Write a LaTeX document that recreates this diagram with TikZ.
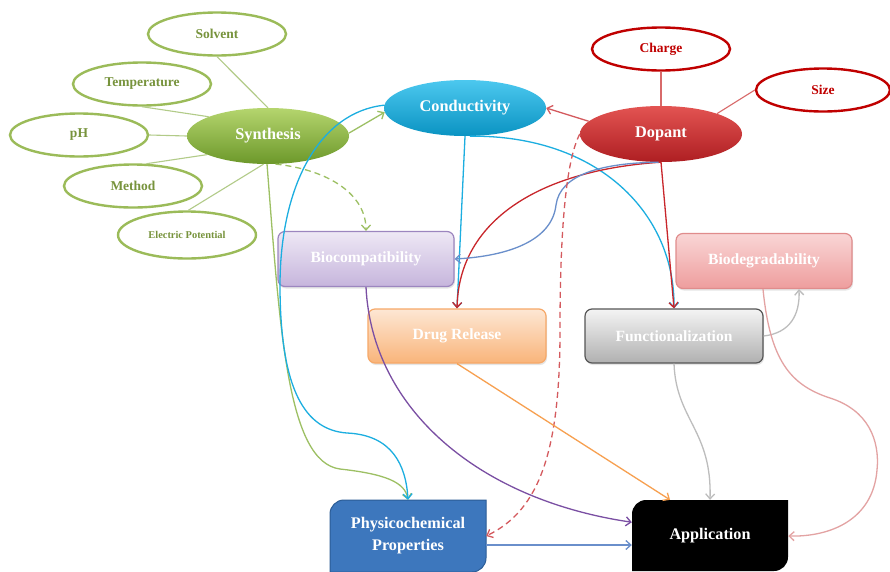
\documentclass[tikz,border=0pt]{standalone}
\usepackage{fontspec}
\setmainfont{Liberation Serif}
\usetikzlibrary{shapes.geometric,arrows.meta,shadows}
\definecolor{grnL}{HTML}{9BBB59}
\definecolor{grnT}{HTML}{77933C}
\definecolor{grnS}{HTML}{B2CB88}
\definecolor{grnA}{HTML}{9DC064}
\definecolor{redD}{HTML}{C00000}
\definecolor{redS}{HTML}{D86A6A}
\definecolor{synT}{HTML}{B5D56E}
\definecolor{synB}{HTML}{6C982A}
\definecolor{conT}{HTML}{4CC8EF}
\definecolor{conB}{HTML}{0A93C2}
\definecolor{dopT}{HTML}{E35452}
\definecolor{dopB}{HTML}{AE1E22}
\definecolor{bioT}{HTML}{EEE8F5}
\definecolor{bioB}{HTML}{C6B5DC}
\definecolor{bioD}{HTML}{9C86BF}
\definecolor{druT}{HTML}{FDE7D4}
\definecolor{druB}{HTML}{F9B47A}
\definecolor{druD}{HTML}{F6A868}
\definecolor{bdgT}{HTML}{F9D6D6}
\definecolor{bdgB}{HTML}{EE9D9D}
\definecolor{bdgD}{HTML}{E08C8C}
\definecolor{funT}{HTML}{F4F4F4}
\definecolor{funB}{HTML}{B0B0B0}
\definecolor{funD}{HTML}{555555}
\definecolor{phyF}{HTML}{3D77BD}
\definecolor{phyD}{HTML}{2B5C96}
\definecolor{cyanL}{HTML}{1CAEE0}
\definecolor{redL}{HTML}{C8262B}
\definecolor{redM}{HTML}{D45A5E}
\definecolor{steel}{HTML}{6A8FCB}
\definecolor{purp}{HTML}{7A4FA3}
\definecolor{orng}{HTML}{F7A050}
\definecolor{grayL}{HTML}{BDBDBD}
\definecolor{pinkL}{HTML}{E3A3A3}
\begin{document}
\begin{tikzpicture}[x=1pt,y=-1pt,
  oval/.style={ellipse, draw, line width=2.4pt, fill=white, inner sep=0pt,
    font=\bfseries\fontsize{13.5}{15}\selectfont, minimum width=138, minimum height=43},
  gov/.style={oval, draw=grnL, text=grnT},
  rov/.style={oval, draw=redD, text=redD},
  hub/.style={ellipse, inner sep=0pt, text=white, font=\bfseries\fontsize{16.3}{19}\selectfont,
    minimum width=162, minimum height=56},
  card/.style={rectangle, rounded corners=7pt, line width=1.2pt, text=white,
    font=\bfseries\fontsize{15.6}{18}\selectfont, minimum width=176, minimum height=55,
    drop shadow={opacity=0.2, shadow xshift=1pt, shadow yshift=-2pt}},
  btxt/.style={inner sep=0pt, text=white, align=center, font=\bfseries\fontsize{16.2}{22}\selectfont},
  sat/.style={line width=1.1pt},
  arr/.style={-{Straight Barb[length=5pt,width=9pt]}, line width=1.3pt},
  dsh/.style={dash pattern=on 6pt off 4pt}
]
\useasboundingbox (0,0) rectangle (890,571);
\fill[white] (0,0) rectangle (890,571);

% ---- satellites
\node[gov] (solv) at (217,34) {Solvent};
\node[gov] (temp) at (142,84) {Temperature};
\node[gov] (ph) at (79,135) {pH};
\node[gov] (meth) at (133,186) {Method};
\node[gov, minimum height=47, font=\bfseries\fontsize{10.4}{12}\selectfont] (elec) at (187,235) {Electric Potential};
\node[rov] (charge) at (661,49) {Charge};
\node[rov, minimum width=134] (size) at (823,90) {Size};

% ---- hubs
\node[hub, top color=synT, bottom color=synB] (syn) at (268,136) {Synthesis};
\node[hub, top color=conT, bottom color=conB] (con) at (465,108) {Conductivity};
\node[hub, top color=dopT, bottom color=dopB] (dop) at (661,134) {Dopant};

% ---- cards
\node[card, draw=bioD, top color=bioT, bottom color=bioB] (bioc) at (366,259) {Biocompatibility};
\node[card, draw=druD, top color=druT, bottom color=druB, minimum width=178, minimum height=54] (drug) at (457,336) {Drug Release};
\node[card, draw=bdgD, top color=bdgT, bottom color=bdgB] (biod) at (764,261) {Biodegradability};
\node[card, draw=funD, top color=funT, bottom color=funB, minimum width=178, minimum height=54] (func) at (674,336) {Functionalization};

% ---- bottom boxes (rounded top-left and bottom-right corners, radius 14)
\filldraw[fill=phyF, draw=phyD, line width=1pt] (344,500) -- (486,500) -- (486,558) .. controls (486,565.7) and (479.7,572) .. (472,572) -- (330,572) -- (330,514) .. controls (330,506.3) and (336.3,500) .. (344,500) -- cycle;
\node[btxt, minimum width=156, minimum height=72] (phys) at (408,536) {Physicochemical\\Properties};
\fill[black] (646,500) -- (788,500) -- (788,557) .. controls (788,564.7) and (781.7,571) .. (774,571) -- (632,571) -- (632,514) .. controls (632,506.3) and (638.3,500) .. (646,500) -- cycle;
\node[btxt, minimum width=156, minimum height=72] (app) at (710,536) {Application};

% ---- satellite links
\draw[sat, grnS] (solv.south) -- (syn.north);
\draw[sat, grnS] (temp.south) -- (syn.162);
\draw[sat, grnS] (ph.east) -- (syn.west);
\draw[sat, grnS] (meth.59) -- (syn.197);
\draw[sat, grnS] (elec.87) -- (syn.261);
\draw[sat, redS] (charge.south) -- (dop.north);
\draw[sat, redS] (size.west) -- (dop.20);

% ---- synthesis arrows
\draw[arr, grnA] (syn.2) -- (con.183);
\draw[arr, grnA, dsh] (syn.285) .. controls (330,170) and (366,195) .. (bioc.north);
\draw[arr, grnA] (syn.268) .. controls (280,330) and (287,462) .. (340,469) .. controls (385,474) and (405,482) .. (phys.north);

% ---- conductivity arrows
\draw[arr, cyanL] (con.178) .. controls (320,112) and (279,185) .. (280,290) .. controls (281,390) and (305,430) .. (347,433) .. controls (392,435) and (406,465) .. (phys.north);
\draw[arr, cyanL] (con.south) -- (drug.north);
\draw[arr, cyanL] (con.280) .. controls (600,135) and (675,215) .. (func.north);

% ---- dopant arrows
\draw[arr, redM] (dop.170) -- (con.east);
\draw[arr, redL] (dop.south) -- (func.north);
\draw[arr, redL] (dop.south) .. controls (540,170) and (459,220) .. (drug.north);
\draw[arr, steel] (dop.265) .. controls (600,163) and (560,175) .. (556,205) .. controls (552,240) and (510,256) .. (bioc.east);
\draw[arr, redM, dsh] (dop.west) .. controls (566,160) and (560,230) .. (560,330) .. controls (560,450) and (540,510) .. (phys.east);

% ---- lower arrows
\draw[arr, purp] (bioc.south) .. controls (372,410) and (480,500) .. (app.170);
\draw[arr, orng] (drug.south) -- ([xshift=-40pt]app.north);
\draw[arr, grayL] (func.south) .. controls (676,420) and (712,430) .. (app.north);
\draw[arr, grayL] (func.east) .. controls (790,333) and (800,315) .. ([xshift=35pt]biod.south);
\draw[arr, pinkL] ([xshift=-1pt]biod.south) .. controls (770,360) and (790,385) .. (830,398) .. controls (868,410) and (880,440) .. (877,470) .. controls (873,520) and (830,537) .. (app.east);
\draw[arr, steel] ([yshift=-9pt]phys.east) -- ([yshift=-9pt]app.west);
\end{tikzpicture}
\end{document}
